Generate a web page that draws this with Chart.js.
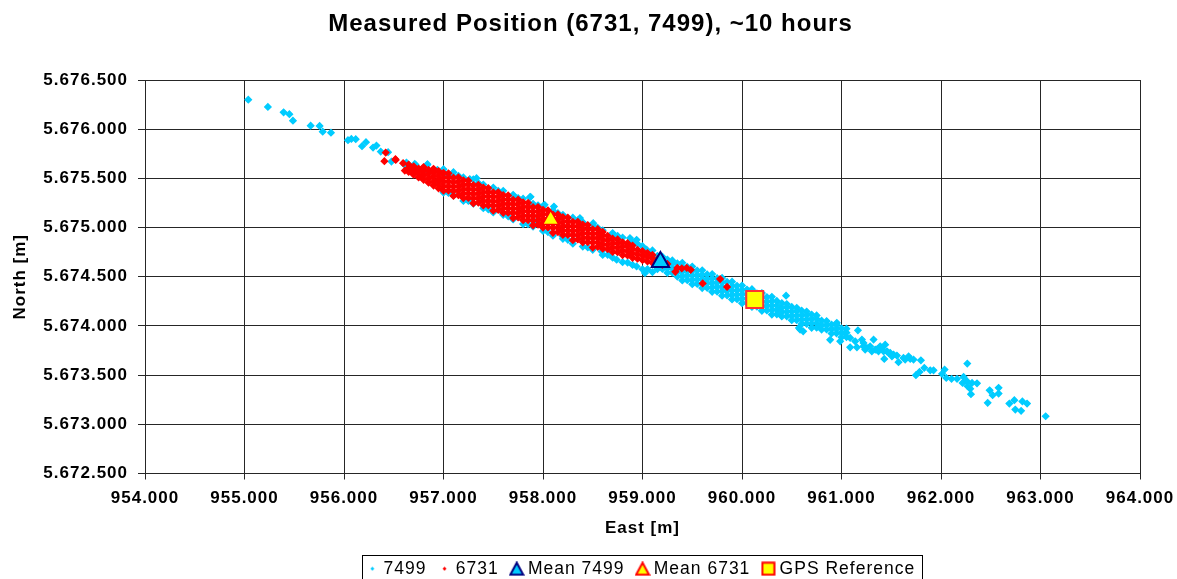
<!DOCTYPE html>
<html>
<head>
<meta charset="utf-8">
<script src="https://cdn.jsdelivr.net/npm/chart.js@4.4.1/dist/chart.umd.min.js"></script>
<style>
  html, body { margin: 0; padding: 0; background: #ffffff; }
  #wrap { width: 1177px; height: 579px; }
</style>
</head>
<body>
<div id="wrap"><canvas id="chart" width="1177" height="579"></canvas></div>
<script>
// east / north positions in metres
var pts7499 = [
  // thin tail to the north-west
  [955038,5676300],[955235,5676226],[955393,5676172],[955451,5676152],[955487,5676087],[955665,5676036],
  [955755,5676033],[955786,5675975],[955869,5675965],[956040,5675888],[956074,5675901],[956118,5675898],
  [956181,5675827],[956221,5675868],[956292,5675813],[956326,5675833],[956369,5675772],[956443,5675766],
  [956477,5675671],[956611,5675637],[956628,5675661],[956711,5675647],[956721,5675637],[956835,5675637],
  [956839,5675644],[956855,5675563],[956936,5675468],[956940,5675587],[956996,5675569],[957030,5675536],
  [957091,5675526],[957264,5675492],[957332,5675502],[957600,5675147],[957700,5675333],[957868,5675309],
  [957875,5675312],[957918,5675045],[957935,5675062],[958016,5675231],[958110,5675214],[958197,5674910],
  [958304,5674876],[958371,5675096],[958505,5675045],[958589,5674757],[958740,5674673],[958874,5674893],
  [958941,5674876],[958941,5674605],[959025,5674538],[959042,5674775],
  // fringe around the red cloud
  [957000,5675594],[957000,5675356],[957050,5675352],[957100,5675563],[957100,5675326],[957150,5675526],
  [957200,5675509],[957200,5675271],[957250,5675270],[957300,5675491],[957300,5675243],[957350,5675453],
  [957400,5675437],[957400,5675197],[957450,5675185],[957500,5675406],[957500,5675154],[957550,5675374],
  [957600,5675373],[957600,5675130],[957650,5675114],[957700,5675325],[957700,5675082],[957750,5675300],
  [957800,5675293],[957800,5675036],[957850,5675034],[957900,5675242],[957900,5675010],[957950,5675226],
  [958000,5675219],[958000,5674965],[958050,5674954],[958100,5675173],[958100,5674918],[958150,5675146],
  [958200,5675129],[958200,5674886],[958250,5674875],[958300,5675101],[958300,5674836],[958350,5675072],
  [958400,5675055],[958400,5674807],[958450,5674798],[958500,5675029],[958500,5674774],[958550,5674998],
  [958600,5674972],[958600,5674722],[958650,5674723],[958700,5674944],[958700,5674694],[958750,5674915],
  [958800,5674898],[958800,5674648],[958850,5674644],[958900,5674855],[958900,5674620],[958950,5674834],
  [959000,5674811],[959000,5674576],[959050,5674577],[959100,5674768],[959100,5674548],
  // main cyan cloud
  [959150,5674578],[959150,5674623],[959150,5674668],[959150,5674713],
  [959200,5674579],[959200,5674624],[959200,5674669],[959200,5674704],
  [959250,5674540],[959250,5674585],[959250,5674630],[959250,5674675],
  [959300,5674541],[959300,5674586],[959300,5674631],[959300,5674666],
  [959350,5674502],[959350,5674547],[959350,5674592],[959350,5674637],
  [959400,5674462],[959400,5674507],[959400,5674552],[959400,5674597],[959400,5674642],
  [959450,5674465],[959450,5674511],[959450,5674555],[959450,5674601],
  [959500,5674424],[959500,5674469],[959500,5674514],[959500,5674559],[959500,5674604],
  [959550,5674427],[959550,5674473],[959550,5674517],[959550,5674563],
  [959600,5674385],[959600,5674430],[959600,5674475],[959600,5674520],[959600,5674565],
  [959650,5674388],[959650,5674434],[959650,5674478],[959650,5674524],
  [959700,5674347],[959700,5674392],[959700,5674437],[959700,5674482],[959700,5674527],
  [959750,5674350],[959750,5674396],[959750,5674440],[959750,5674486],
  [959800,5674308],[959800,5674353],[959800,5674398],[959800,5674443],[959800,5674488],
  [959850,5674311],[959850,5674357],[959850,5674401],[959850,5674447],
  [959900,5674270],[959900,5674315],[959900,5674360],[959900,5674405],[959900,5674450],
  [959950,5674272],[959950,5674318],[959950,5674362],[959950,5674408],
  [960000,5674231],[960000,5674276],[960000,5674321],[960000,5674366],[960000,5674411],
  [960050,5674234],[960050,5674280],[960050,5674324],[960050,5674370],
  [960100,5674193],[960100,5674238],[960100,5674283],[960100,5674328],[960100,5674373],
  [960150,5674195],[960150,5674241],[960150,5674285],[960150,5674331],
  [960200,5674154],[960200,5674199],[960200,5674244],[960200,5674289],[960200,5674334],
  [960250,5674157],[960250,5674203],[960250,5674247],[960250,5674293],
  [960300,5674116],[960300,5674161],[960300,5674206],[960300,5674251],[960300,5674296],
  [960350,5674118],[960350,5674164],[960350,5674208],[960350,5674254],
  [960400,5674097],[960400,5674142],[960400,5674187],[960400,5674232],
  [960450,5674098],[960450,5674143],[960450,5674188],[960450,5674223],
  [960500,5674058],[960500,5674103],[960500,5674148],[960500,5674193],
  [960550,5674059],[960550,5674104],[960550,5674149],[960550,5674184],
  [960600,5674020],[960600,5674065],[960600,5674110],[960600,5674155],
  [960650,5674021],[960650,5674066],[960650,5674111],[960650,5674146],
  [960700,5673981],[960700,5674026],[960700,5674071],[960700,5674116],
  [960750,5673982],[960750,5674027],[960750,5674072],[960750,5674107],
  [960800,5673963],[960800,5674008],[960800,5674053],
  [960850,5673964],[960850,5674009],[960850,5674049],
  [960900,5673924],[960900,5673969],[960900,5674014],
  [960950,5673925],[960950,5673970],[960950,5674010],
  [961000,5673886],[961000,5673931],[961000,5673976],
  [961050,5673887],[961050,5673932],[961050,5673972],
  [960443,5674308],[960584,5673963],[960572,5673980],[960615,5673945],[960953,5674032],[960886,5673859],
  [960987,5673844],
  // thinning out to the south-east
  [961037,5673929],[961087,5673878],[961087,5673783],[961138,5673844],[961155,5673783],[961165,5673955],
  [961205,5673861],[961221,5673793],[961221,5673827],[961238,5673760],[961255,5673777],[961288,5673793],
  [961305,5673742],[961322,5673861],[961339,5673760],[961356,5673760],[961372,5673742],[961389,5673793],
  [961406,5673777],[961423,5673742],[961430,5673665],[961439,5673810],[961457,5673742],[961473,5673726],
  [961490,5673726],[961507,5673691],[961523,5673709],[961557,5673699],[961573,5673631],[961623,5673675],
  [961640,5673658],[961674,5673691],[961691,5673665],[961724,5673658],[961748,5673499],[961784,5673533],
  [961798,5673651],[961832,5673574],[961892,5673549],[961925,5673549],[962010,5673513],[962036,5673556],
  [962053,5673472],[962106,5673462],[962161,5673462],[962217,5673421],[962227,5673482],[962261,5673438],
  [962264,5673617],[962267,5673387],[962294,5673361],[962301,5673306],[962312,5673421],[962362,5673417],
  [962469,5673218],[962489,5673346],[962519,5673296],[962579,5673371],[962579,5673313],[962687,5673211],
  [962737,5673245],[962747,5673150],[962805,5673137],[962818,5673232],[962865,5673211],[963052,5673082]
];

var pts6731 = [
  [956406,5675675],[956419,5675762],[956517,5675695],[956520,5675687],[956594,5675655],[956611,5675579],
  [956678,5675604],[956728,5675586],[956779,5675512],[956795,5675586],
  [956650,5675566],[956650,5675606],[956650,5675641],
  [956700,5675537],[956700,5675582],[956700,5675622],
  [956750,5675509],[956750,5675554],[956750,5675599],
  [956800,5675485],[956800,5675530],[956800,5675575],[956800,5675615],
  [956850,5675456],[956850,5675501],[956850,5675546],[956850,5675586],
  [956900,5675427],[956900,5675472],[956900,5675517],[956900,5675562],[956900,5675597],
  [956950,5675399],[956950,5675444],[956950,5675489],[956950,5675534],[956950,5675574],
  [957000,5675375],[957000,5675420],[957000,5675465],[957000,5675510],[957000,5675555],
  [957050,5675376],[957050,5675421],[957050,5675466],[957050,5675511],[957050,5675551],
  [957100,5675322],[957100,5675372],[957100,5675417],[957100,5675462],[957100,5675507],
  [957150,5675329],[957150,5675374],[957150,5675419],[957150,5675464],[957150,5675509],
  [957200,5675300],[957200,5675345],[957200,5675390],[957200,5675435],[957200,5675480],
  [957250,5675301],[957250,5675346],[957250,5675391],[957250,5675436],[957250,5675476],
  [957300,5675247],[957300,5675297],[957300,5675342],[957300,5675387],[957300,5675432],
  [957350,5675254],[957350,5675299],[957350,5675344],[957350,5675389],[957350,5675434],
  [957400,5675225],[957400,5675270],[957400,5675315],[957400,5675360],[957400,5675405],
  [957450,5675226],[957450,5675271],[957450,5675316],[957450,5675361],[957450,5675401],
  [957500,5675172],[957500,5675222],[957500,5675267],[957500,5675312],[957500,5675357],
  [957550,5675179],[957550,5675224],[957550,5675269],[957550,5675314],[957550,5675359],
  [957600,5675150],[957600,5675195],[957600,5675240],[957600,5675285],[957600,5675330],
  [957650,5675151],[957650,5675196],[957650,5675241],[957650,5675286],[957650,5675326],
  [957700,5675097],[957700,5675147],[957700,5675192],[957700,5675237],[957700,5675282],
  [957750,5675104],[957750,5675149],[957750,5675194],[957750,5675239],[957750,5675284],
  [957800,5675075],[957800,5675120],[957800,5675165],[957800,5675210],[957800,5675255],
  [957850,5675076],[957850,5675121],[957850,5675166],[957850,5675211],[957850,5675251],
  [957900,5675022],[957900,5675072],[957900,5675117],[957900,5675162],[957900,5675207],
  [957950,5675029],[957950,5675074],[957950,5675119],[957950,5675164],[957950,5675209],
  [958000,5675000],[958000,5675045],[958000,5675090],[958000,5675135],[958000,5675180],
  [958050,5675001],[958050,5675046],[958050,5675091],[958050,5675136],[958050,5675176],
  [958100,5674947],[958100,5674997],[958100,5675042],[958100,5675087],[958100,5675132],
  [958150,5674954],[958150,5674999],[958150,5675044],[958150,5675089],[958150,5675134],
  [958200,5674925],[958200,5674970],[958200,5675015],[958200,5675060],[958200,5675105],
  [958250,5674926],[958250,5674971],[958250,5675016],[958250,5675061],[958250,5675101],
  [958300,5674872],[958300,5674922],[958300,5674967],[958300,5675012],[958300,5675057],
  [958350,5674879],[958350,5674924],[958350,5674969],[958350,5675014],[958350,5675059],
  [958400,5674850],[958400,5674895],[958400,5674940],[958400,5674985],[958400,5675030],
  [958450,5674851],[958450,5674896],[958450,5674941],[958450,5674986],[958450,5675026],
  [958500,5674797],[958500,5674847],[958500,5674892],[958500,5674937],[958500,5674982],
  [958550,5674804],[958550,5674849],[958550,5674894],[958550,5674939],[958550,5674984],
  [958600,5674785],[958600,5674830],[958600,5674875],[958600,5674920],[958600,5674955],
  [958650,5674781],[958650,5674826],[958650,5674871],[958650,5674916],
  [958700,5674752],[958700,5674797],[958700,5674842],[958700,5674887],
  [958750,5674749],[958750,5674794],[958750,5674839],[958750,5674879],
  [958800,5674720],[958800,5674765],[958800,5674810],[958800,5674850],
  [958850,5674716],[958850,5674761],[958850,5674806],[958850,5674841],
  [958900,5674692],[958900,5674737],[958900,5674782],[958900,5674817],
  [958950,5674684],[958950,5674729],[958950,5674774],
  [959000,5674670],[959000,5674715],[959000,5674760],
  [959050,5674656],[959050,5674701],[959050,5674741],
  [959100,5674642],[959100,5674687],[959100,5674722],
  [959150,5674634],[959150,5674679],
  [959200,5674620],[959200,5674660],[959250,5674630],
  // stray fixes east of the cloud
  [959330,5674550],[959350,5674590],[959395,5674585],[959445,5674590],[959485,5674570],
  [959605,5674432],[959780,5674477],[959850,5674396]
];

var mean7499 = [[959180, 5674650]];
var mean6731 = [[958077, 5675079]];
var gpsRef = [[960128, 5674269]];

var seriesNames = ['7499', '6731', 'Mean 7499', 'Mean 6731', 'GPS Reference'];

var xTicks = { min: 954000, max: 964000, step: 1000 };
var yTicks = { min: 5672500, max: 5676500, step: 500 };

var FONT = 'Liberation Sans, Arial, Helvetica, sans-serif';
var CYAN = '#00CCFF', RED = '#FF0000', YELLOW = '#FFFF00', NAVY = '#000080';

function toXY(list) {
  return list.map(function (p) { return { x: p[0], y: p[1] }; });
}

// 5676500 -> "5.676.500"
function dotted(v) {
  return String(Math.round(v)).replace(/\B(?=(\d{3})+(?!\d))/g, '.');
}

// small canvases used as legend symbols
function icon(w, h, paint) {
  var c = document.createElement('canvas');
  c.width = w; c.height = h;
  paint(c.getContext('2d'));
  return c;
}
var legendIcons = [
  icon(5, 5, function (g) {
    g.fillStyle = CYAN; g.beginPath();
    g.moveTo(2.5, 0.5); g.lineTo(4.5, 2.5); g.lineTo(2.5, 4.5); g.lineTo(0.5, 2.5); g.fill();
  }),
  icon(5, 5, function (g) {
    g.fillStyle = RED; g.beginPath();
    g.moveTo(2.5, 0.5); g.lineTo(4.5, 2.5); g.lineTo(2.5, 4.5); g.lineTo(0.5, 2.5); g.fill();
  }),
  icon(16, 15, function (g) {
    g.fillStyle = CYAN; g.strokeStyle = NAVY; g.lineWidth = 2; g.beginPath();
    g.moveTo(8, 1.5); g.lineTo(14.5, 13.5); g.lineTo(1.5, 13.5); g.closePath(); g.fill(); g.stroke();
  }),
  icon(16, 15, function (g) {
    g.fillStyle = YELLOW; g.strokeStyle = RED; g.lineWidth = 2; g.beginPath();
    g.moveTo(8, 1.5); g.lineTo(14.5, 13.5); g.lineTo(1.5, 13.5); g.closePath(); g.fill(); g.stroke();
  }),
  icon(15, 15, function (g) {
    g.fillStyle = YELLOW; g.strokeStyle = RED; g.lineWidth = 2;
    g.fillRect(1.5, 1.5, 12, 12); g.strokeRect(1.5, 1.5, 12, 12);
  })
];

var LEG_PAD = 15.5;

// Excel-like wide text
var spacing = {
  id: 'spacing',
  beforeUpdate: function (chart) { chart.ctx.letterSpacing = '1px'; },
  beforeDraw: function (chart) { chart.ctx.letterSpacing = '1px'; }
};

// center title on the page, legend under the plot, box round the legend
var framing = {
  id: 'framing',
  afterLayout: function (chart) {
    chart.titleBlock.left = 0;
    chart.titleBlock.right = 1181;
    chart.legend.left = chart.chartArea.left;
    chart.legend.right = chart.chartArea.right;
  },
  afterDraw: function (chart) {
    var L = chart.legend;
    var lw = L.lineWidths[0];
    var x0 = (L.left + LEG_PAD + L.right - lw) / 2;
    var left = Math.round(x0 - 8) + 0.5;
    var right = Math.round(x0 + lw - LEG_PAD + 7) + 0.5;
    var top = Math.round(L.top + LEG_PAD + 8.5 - 14) + 0.5;
    var ctx = chart.ctx;
    ctx.save();
    ctx.strokeStyle = '#000000';
    ctx.lineWidth = 1;
    ctx.strokeRect(left, top, right - left, 60);
    ctx.restore();
  }
};

var ctx = document.getElementById('chart');
var chart = new Chart(ctx, {
  type: 'scatter',
  data: {
    datasets: [
      { label: seriesNames[0], data: toXY(pts7499), order: 5, pointStyle: 'rectRot',
        pointRadius: 3.2, borderWidth: 1.3, backgroundColor: CYAN, borderColor: CYAN },
      { label: seriesNames[1], data: toXY(pts6731), order: 4, pointStyle: 'rectRot',
        pointRadius: 3.2, borderWidth: 1.3, backgroundColor: RED, borderColor: RED },
      { label: seriesNames[2], data: toXY(mean7499), order: 3, pointStyle: 'triangle',
        pointRadius: 10, borderWidth: 2, backgroundColor: CYAN, borderColor: NAVY },
      { label: seriesNames[3], data: toXY(mean6731), order: 2, pointStyle: 'triangle',
        pointRadius: 9.5, borderWidth: 1.5, backgroundColor: YELLOW, borderColor: RED },
      { label: seriesNames[4], data: toXY(gpsRef), order: 1, pointStyle: 'rect',
        pointRadius: 12, borderWidth: 2, backgroundColor: YELLOW, borderColor: '#FF3333' }
    ]
  },
  options: {
    responsive: false,
    animation: false,
    devicePixelRatio: 1,
    layout: { padding: { top: 0, left: 0, right: 37, bottom: -8.5 } },
    plugins: {
      tooltip: { enabled: false },
      title: {
        display: true,
        text: 'Measured Position (6731, 7499), ~10 hours',
        color: '#000000',
        font: { family: FONT, size: 24, weight: 'bold' },
        padding: { top: 10, bottom: 41.2 }
      },
      legend: {
        display: true,
        position: 'bottom',
        align: 'center',
        labels: {
          usePointStyle: true,
          boxWidth: 5,
          boxHeight: 17,
          padding: LEG_PAD,
          color: '#000000',
          font: { family: FONT, size: 17.5 },
          generateLabels: function (ch) {
            return seriesNames.map(function (name, i) {
              return { text: name, pointStyle: legendIcons[i], fillStyle: 'rgba(0,0,0,0)',
                strokeStyle: 'rgba(0,0,0,0)', lineWidth: 0, hidden: false, datasetIndex: i };
            });
          }
        }
      }
    },
    scales: {
      x: {
        type: 'linear',
        position: 'bottom',
        min: xTicks.min,
        max: xTicks.max,
        afterFit: function (s) { s.height = 71; s.paddingLeft = 0; s.paddingRight = 0; },
        ticks: {
          stepSize: xTicks.step,
          color: '#000000',
          padding: 9,
          maxRotation: 0,
          font: { family: FONT, size: 17, weight: 'bold' },
          callback: function (v) { return dotted(v); }
        },
        grid: { color: '#262626', lineWidth: 1, tickLength: 6, drawTicks: true },
        border: { display: true, color: '#262626', width: 1 },
        title: {
          display: true,
          text: 'East [m]',
          color: '#000000',
          font: { family: FONT, size: 17, weight: 'bold' },
          padding: { top: 0, bottom: 5.8 }
        }
      },
      y: {
        type: 'linear',
        position: 'left',
        min: yTicks.min,
        max: yTicks.max,
        afterFit: function (s) { s.width = 145; },
        ticks: {
          stepSize: yTicks.step,
          color: '#000000',
          padding: 10,
          font: { family: FONT, size: 17, weight: 'bold' },
          callback: function (v) { return dotted(v); }
        },
        grid: { color: '#262626', lineWidth: 1, tickLength: 7, drawTicks: true },
        border: { display: true, color: '#262626', width: 1 },
        title: {
          display: true,
          text: 'North [m]',
          color: '#000000',
          font: { family: FONT, size: 17, weight: 'bold' },
          padding: { top: 10.5, bottom: 0 }
        }
      }
    }
  },
  plugins: [spacing, framing]
});
</script>
</body>
</html>
